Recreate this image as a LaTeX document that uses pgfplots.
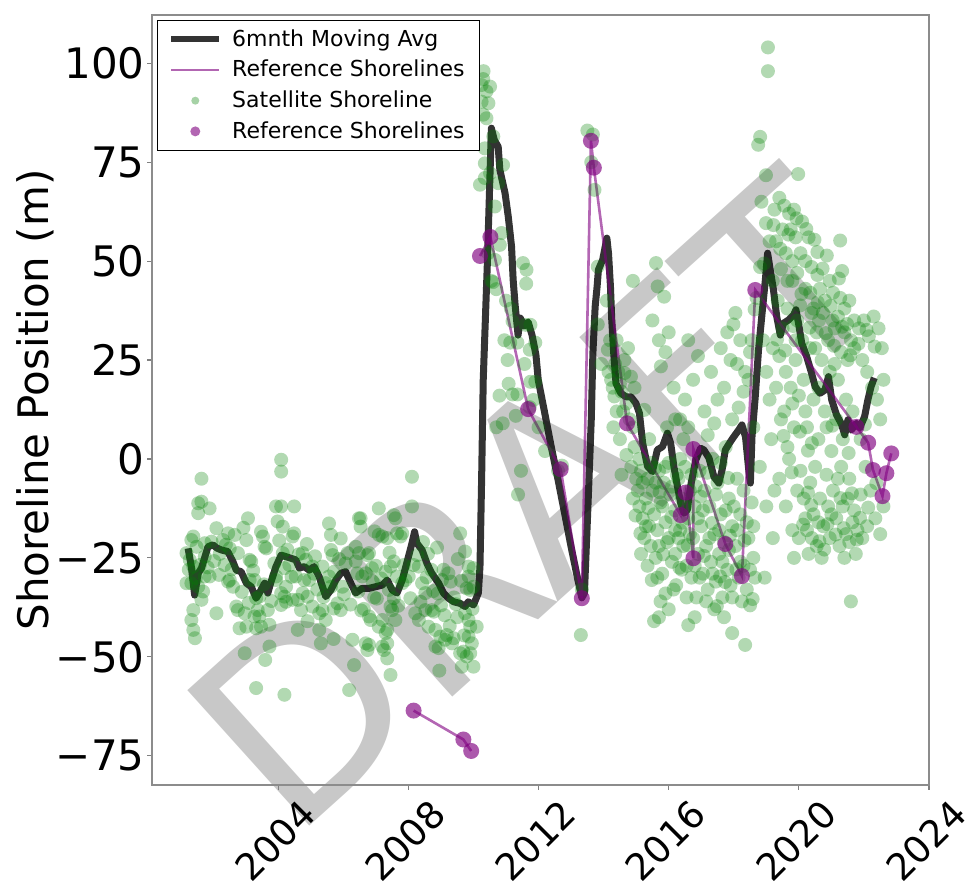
\documentclass[border=0pt]{standalone}
\usepackage{pgfplots}
\pgfplotsset{compat=1.18}
\usepackage{pgfplotstable}
\usepackage{fontspec}
\setmainfont{DejaVu Sans}

\definecolor{mplgreen}{RGB}{0,128,0}
\definecolor{mplpurple}{RGB}{128,0,128}
\definecolor{wmgray}{RGB}{200,200,200}

% satellite-derived shoreline positions (year, m)
\pgfplotstableread[row sep=\\]{
x y\\
2001.64 -5.0\\ 2001.54 -11.2\\ 2001.64 -10.8\\ 2001.54 -13.7\\ 2001.89 -12.5\\ 2001.39 -19.6\\ 2001.33 -20.5\\ 2001.49 -22.2\\
2001.74 -21.3\\ 2001.95 -20.9\\ 2002.10 -17.5\\ 2001.18 -23.8\\ 2001.74 -24.7\\ 2001.39 -27.2\\ 2001.59 -26.8\\ 2001.74 -29.7\\
2001.89 -29.7\\ 2001.18 -31.4\\ 2001.33 -31.4\\ 2001.54 -32.3\\ 2001.69 -33.5\\ 2001.39 -38.2\\ 2001.33 -40.7\\ 2001.39 -43.2\\
2001.44 -45.3\\ 2002.10 -39.0\\ 2001.64 -35.6\\ 2002.46 -18.8\\ 2002.66 -19.2\\ 2002.51 -22.6\\ 2002.76 -23.8\\ 2002.35 -26.8\\
2002.51 -30.6\\ 2002.46 -31.0\\ 2002.61 -32.3\\ 2002.71 -37.3\\ 2002.76 -38.2\\ 2002.81 -42.8\\ 2002.97 -39.0\\ 2003.02 -42.4\\
2002.97 -49.1\\ 2003.07 -15.0\\ 2003.02 -20.5\\ 2003.12 -25.5\\ 2003.17 -25.9\\ 2003.12 -30.6\\ 2003.27 -30.6\\ 2003.32 -35.2\\
2003.42 -34.8\\ 2003.37 -38.2\\ 2003.27 -39.8\\ 2003.42 -39.8\\ 2003.32 -42.8\\ 2003.47 -42.4\\ 2003.68 -38.2\\ 2003.73 -41.9\\
2003.73 -47.4\\ 2003.32 -57.9\\ 2003.47 -18.4\\ 2003.53 -19.6\\ 2003.58 -22.2\\ 2003.63 -22.6\\ 2003.88 -26.4\\ 2003.93 -29.7\\
2004.09 -0.2\\ 2004.09 -3.2\\ 2003.93 -12.0\\ 2004.09 -12.0\\ 2004.49 -12.0\\ 2003.98 -15.8\\ 2004.14 -17.1\\ 2004.14 -23.8\\
2004.34 -26.8\\ 2004.19 -27.6\\ 2004.24 -32.3\\ 2004.19 -34.8\\ 2004.24 -36.1\\ 2004.44 -35.6\\ 2004.60 -35.6\\ 2004.70 -38.2\\
2004.19 -59.6\\ 2004.44 -19.6\\ 2004.49 -18.8\\ 2004.75 -23.8\\ 2004.85 -25.5\\ 2004.54 -29.7\\ 2004.80 -30.6\\ 2004.95 -30.6\\
2005.05 -27.2\\ 2004.75 -33.9\\ 2004.90 -34.8\\ 2005.05 -37.3\\ 2005.26 -39.0\\ 2005.26 -43.2\\ 2005.31 -46.6\\ 2005.36 -38.2\\
2005.46 -40.7\\ 2005.56 -16.3\\ 2005.62 -19.2\\ 2005.62 -23.0\\ 2005.67 -24.3\\ 2005.56 -29.7\\ 2005.72 -28.5\\ 2005.82 -36.5\\
2005.92 -38.2\\ 2006.07 -26.4\\ 2006.13 -23.8\\ 2005.97 -32.3\\ 2006.18 -58.4\\ 2006.28 -45.7\\ 2006.33 -52.1\\ 2006.38 -25.9\\
2006.48 -23.8\\ 2006.48 -15.0\\ 2006.53 -15.0\\ 2006.43 -28.9\\ 2006.58 -29.7\\ 2006.69 -28.9\\ 2006.74 -24.3\\ 2006.79 -23.8\\
2006.79 -39.8\\ 2006.84 -40.7\\ 2006.69 -46.6\\ 2006.74 -48.3\\ 2006.79 -47.0\\ 2007.20 -47.4\\ 2007.25 -48.3\\ 2007.35 -46.6\\
2007.09 -12.5\\ 2007.45 -54.6\\ 2007.35 -50.4\\ 2007.09 -19.2\\ 2007.20 -19.6\\ 2007.35 -20.0\\ 2007.30 -28.5\\ 2007.45 -27.2\\
2007.55 -25.9\\ 2007.40 -33.1\\ 2007.55 -35.2\\ 2007.45 -37.3\\ 2007.50 -38.2\\ 2007.60 -40.7\\ 2007.30 -44.0\\ 2007.55 -14.2\\
2007.60 -15.0\\ 2007.81 -18.8\\ 2007.65 -18.8\\ 2007.76 -19.6\\ 2008.11 -4.5\\ 2008.11 -12.0\\ 2008.01 -29.7\\ 2008.16 -26.8\\
2008.32 -27.2\\ 2008.27 -24.3\\ 2008.21 -39.0\\ 2008.32 -40.7\\ 2008.52 -38.2\\ 2008.42 -31.4\\ 2008.52 -33.9\\ 2008.62 -42.4\\
2008.83 -43.2\\ 2008.83 -47.4\\ 2008.93 -47.8\\ 2008.98 -44.9\\ 2009.13 -45.7\\ 2009.18 -44.5\\ 2008.72 -38.2\\ 2008.78 -38.6\\
2009.03 -30.6\\ 2009.08 -28.0\\ 2009.23 -28.9\\ 2009.39 -45.3\\ 2009.34 -46.6\\ 2009.59 -49.1\\ 2009.69 -48.7\\ 2009.64 -52.5\\
2009.79 -49.9\\ 2010.00 -52.5\\ 2009.90 -49.1\\ 2009.95 -46.6\\ 2009.85 -44.9\\ 2009.59 -18.8\\ 2009.74 -23.4\\ 2009.85 -27.2\\
2010.00 -27.6\\ 2009.85 -29.7\\ 2009.79 -32.7\\ 2009.90 -33.1\\ 2010.00 -32.3\\ 2009.74 -39.0\\ 2009.85 -40.7\\ 2009.90 -42.4\\
2010.10 -42.4\\ 2007.20 -40.7\\ 2007.09 -42.4\\ 2007.35 -43.2\\ 2007.91 -30.6\\ 2007.81 -31.4\\ 2007.65 -29.7\\ 2006.53 -17.1\\
2006.38 -22.2\\ 2005.36 -27.2\\ 2005.46 -31.4\\ 2005.62 -32.3\\ 2003.93 -30.6\\ 2004.09 -33.9\\ 2004.09 -36.9\\ 2005.10 -29.0\\
2005.20 -33.0\\ 2004.90 -41.0\\ 2006.90 -31.0\\ 2006.95 -35.0\\ 2007.00 -27.0\\ 2008.45 -21.0\\ 2008.60 -24.0\\ 2008.70 -28.0\\
2008.90 -34.0\\ 2009.00 -37.0\\ 2009.40 -35.0\\ 2009.50 -40.0\\ 2009.30 -31.0\\ 2001.25 -28.0\\ 2002.20 -24.0\\ 2002.30 -20.5\\
2001.28 -25.5\\ 2001.47 -30.1\\ 2001.83 -27.4\\ 2002.03 -25.8\\ 2002.18 -29.3\\ 2002.39 -21.7\\ 2002.57 -27.9\\ 2002.88 -33.6\\
2003.09 -36.4\\ 2003.23 -28.2\\ 2003.56 -31.7\\ 2003.79 -35.9\\ 2004.03 -20.6\\ 2004.28 -22.9\\ 2004.41 -29.8\\ 2004.63 -24.1\\
2004.88 -21.5\\ 2005.13 -24.6\\ 2005.39 -34.9\\ 2005.71 -37.8\\ 2005.87 -25.3\\ 2006.02 -34.2\\ 2006.22 -36.8\\ 2006.46 -33.5\\
2006.63 -37.9\\ 2006.88 -27.6\\ 2007.03 -35.3\\ 2007.16 -30.2\\ 2007.42 -23.7\\ 2007.69 -37.1\\ 2007.86 -26.8\\ 2008.06 -35.2\\
2008.37 -36.1\\ 2008.56 -29.9\\ 2008.76 -33.4\\ 2009.11 -39.5\\ 2009.27 -42.2\\ 2009.46 -36.7\\ 2009.62 -30.8\\ 2009.97 -37.9\\
2009.71 -44.6\\ 2009.52 -25.3\\ 2002.93 -17.4\\ 2005.92 -20.1\\ 2006.96 -18.3\\ 2008.88 -22.4\\ 2004.60 -43.2\\ 2003.60 -50.8\\
2005.70 -45.5\\ 2008.95 -53.5\\ 2006.55 -38.3\\
2010.31 98.0\\ 2010.30 96.0\\ 2010.25 94.5\\ 2010.51 94.1\\ 2010.40 92.9\\ 2010.25 90.3\\ 2010.46 89.9\\ 2010.30 87.0\\
2010.40 86.1\\ 2010.35 78.5\\ 2010.61 81.5\\ 2010.35 74.7\\ 2010.51 72.2\\ 2010.91 74.3\\ 2010.20 69.3\\ 2010.35 71.0\\
2010.76 69.7\\ 2010.66 63.8\\ 2010.86 57.1\\ 2010.81 54.1\\ 2010.66 50.3\\ 2010.45 52.0\\ 2010.55 45.0\\ 2010.70 42.9\\
2010.60 44.7\\ 2011.52 49.5\\ 2011.63 47.8\\ 2011.62 44.3\\ 2011.20 34.8\\ 2011.60 33.9\\ 2011.75 33.9\\ 2011.13 29.4\\
2011.35 29.4\\ 2011.73 27.6\\ 2011.90 29.4\\ 2011.08 19.0\\ 2011.20 16.3\\ 2011.35 16.3\\ 2011.57 24.0\\ 2011.75 19.5\\
2011.90 19.5\\ 2011.84 14.9\\ 2011.73 13.1\\ 2011.30 10.9\\ 2011.46 -3.0\\ 2012.72 -1.7\\ 2012.60 -3.0\\ 2010.70 8.0\\
2010.80 16.0\\ 2010.90 9.0\\ 2011.05 25.0\\ 2011.00 40.0\\ 2012.00 8.0\\ 2012.20 2.0\\ 2013.33 -33.0\\ 2013.30 -44.5\\
2011.15 38.0\\ 2010.95 30.0\\ 2011.37 -9.0\\
2013.50 83.0\\ 2013.67 82.0\\ 2013.62 75.0\\ 2013.72 68.0\\ 2013.82 48.6\\ 2013.82 34.0\\ 2013.93 24.0\\
2014.13 27.6\\ 2014.23 20.0\\ 2014.33 15.8\\ 2014.28 18.0\\ 2014.45 22.0\\ 2014.64 25.0\\ 2014.84 20.8\\ 2014.64 21.7\\
2014.55 17.0\\ 2014.40 12.0\\ 2014.70 14.0\\ 2014.90 8.0\\ 2014.50 5.0\\ 2014.75 28.0\\ 2014.95 3.0\\ 2015.00 -5.0\\
2014.85 -2.0\\ 2014.20 30.0\\ 2014.10 40.0\\ 2014.90 45.0\\ 2014.15 22.0\\ 2014.35 24.0\\ 2014.50 19.0\\ 2014.60 12.0\\
2014.80 10.0\\ 2014.95 18.0\\ 2014.40 30.0\\ 2014.55 -4.0\\ 2014.70 1.0\\ 2014.90 -10.0\\ 2014.30 8.0\\
2015.05 -8.0\\ 2015.10 -12.0\\ 2015.15 -3.0\\ 2015.20 -15.0\\ 2015.25 -20.0\\ 2015.30 -10.0\\ 2015.35 -5.0\\ 2015.40 -17.0\\
2015.45 -22.0\\ 2015.50 -8.0\\ 2015.55 -14.0\\ 2015.60 -25.0\\ 2015.65 -18.0\\ 2015.70 -3.0\\ 2015.75 -11.0\\ 2015.80 -29.0\\
2015.85 -6.0\\ 2015.90 -16.0\\ 2015.95 -21.0\\ 2016.00 -1.0\\ 2016.05 -9.0\\ 2016.10 -26.0\\ 2016.15 -33.0\\ 2016.20 -13.0\\
2016.25 -4.0\\ 2015.25 12.4\\ 2015.61 49.5\\ 2015.66 43.6\\ 2015.86 41.0\\ 2015.76 23.4\\ 2015.50 35.0\\ 2015.70 30.0\\
2015.90 27.0\\ 2016.00 32.0\\ 2016.15 18.0\\ 2016.20 10.0\\ 2015.40 5.0\\ 2015.95 8.0\\ 2015.65 -30.0\\ 2015.75 -36.0\\
2015.55 -41.0\\ 2015.70 -40.0\\ 2016.00 -38.0\\ 2015.90 -34.0\\ 2016.20 -24.0\\ 2015.10 0.0\\ 2015.20 -6.0\\ 2015.30 -17.0\\
2015.45 -1.0\\ 2015.60 -6.0\\ 2015.70 -22.0\\ 2015.80 -12.0\\ 2015.90 -2.0\\ 2016.00 -20.0\\ 2016.10 -7.0\\ 2016.20 -18.0\\
2015.15 -24.0\\ 2015.35 -27.0\\
2015.13 -18.8\\ 2015.37 -12.4\\ 2015.58 -2.3\\ 2015.83 -24.1\\ 2016.08 -14.7\\ 2016.33 -27.5\\ 2016.58 -21.8\\ 2016.83 -6.9\\
2017.08 -24.5\\ 2017.33 -16.2\\ 2017.58 -29.7\\ 2017.83 -4.8\\ 2018.08 -27.9\\ 2018.33 -20.6\\ 2018.58 -35.4\\ 2015.48 -30.6\\
2016.23 -31.9\\ 2016.98 -9.5\\ 2017.48 -37.2\\ 2017.73 -31.1\\ 2014.98 -14.3\\ 2015.72 -8.4\\ 2016.42 -16.1\\ 2017.18 -3.5\\
2017.88 -19.4\\
2016.30 -5.0\\ 2016.35 -18.0\\ 2016.40 -10.0\\ 2016.45 -22.0\\ 2016.50 -2.0\\ 2016.55 -27.0\\ 2016.60 -15.0\\ 2016.65 -8.0\\
2016.70 -30.0\\ 2016.75 -20.0\\ 2016.80 -12.0\\ 2016.85 -35.0\\ 2016.90 -24.0\\ 2016.95 -3.0\\ 2016.35 10.0\\ 2016.50 15.0\\
2016.60 30.0\\ 2016.75 20.0\\ 2016.90 26.0\\ 2016.45 5.0\\ 2016.80 -40.0\\ 2016.60 -42.0\\ 2016.30 -20.0\\ 2016.40 -28.0\\
2016.50 -12.0\\ 2016.55 -35.0\\ 2016.65 -19.0\\ 2016.70 -4.0\\ 2016.80 -27.0\\ 2016.90 -15.0\\ 2016.95 -30.0\\ 2016.35 0.0\\
2016.60 8.0\\
2017.00 -17.0\\ 2017.05 -29.0\\ 2017.10 -8.0\\ 2017.15 -22.0\\ 2017.20 -33.0\\ 2017.25 -12.0\\ 2017.30 -26.0\\ 2017.35 0.0\\
2017.40 -19.0\\ 2017.45 -31.0\\ 2017.50 -6.0\\ 2017.55 -24.0\\ 2017.60 -14.0\\ 2017.65 -35.0\\ 2017.70 -21.0\\ 2017.75 3.0\\
2017.80 -28.0\\ 2017.85 -10.0\\ 2017.90 -32.0\\ 2017.95 -17.0\\ 2017.10 12.0\\ 2017.30 22.0\\ 2017.50 15.0\\ 2017.60 28.0\\
2017.70 18.0\\ 2017.80 32.0\\ 2017.90 25.0\\ 2017.95 10.0\\ 2017.40 -38.0\\ 2017.70 -40.0\\ 2017.95 -44.0\\ 2017.05 -13.0\\
2017.15 -36.0\\ 2017.25 -20.0\\ 2017.35 -29.0\\ 2017.45 -9.0\\ 2017.55 -18.0\\ 2017.65 -26.0\\ 2017.75 -13.0\\ 2017.85 -23.0\\
2017.95 -35.0\\ 2017.20 6.0\\ 2017.40 9.0\\ 2017.60 -1.0\\
2018.05 -22.0\\ 2018.10 -5.0\\ 2018.15 -30.0\\ 2018.20 -14.0\\ 2018.25 -36.0\\ 2018.30 -27.0\\ 2018.35 -47.0\\ 2018.40 -33.0\\
2018.45 -20.0\\ 2018.50 -37.0\\ 2018.55 -11.0\\ 2018.60 -25.0\\ 2018.65 -30.0\\ 2018.05 36.9\\ 2017.99 34.0\\ 2018.10 24.0\\
2018.20 30.0\\ 2018.30 17.0\\ 2018.45 20.0\\ 2018.50 27.0\\ 2018.64 37.8\\ 2018.70 40.7\\ 2018.60 8.0\\ 2018.10 -18.0\\
2018.20 -26.0\\ 2018.30 -8.0\\ 2018.40 -16.0\\ 2018.50 -28.0\\ 2018.60 -17.0\\ 2018.00 -12.0\\ 2018.15 13.0\\ 2018.35 22.0\\
2018.55 30.0\\
2018.75 79.4\\ 2018.81 81.4\\ 2019.05 104.0\\ 2019.05 98.0\\ 2018.99 71.7\\ 2018.99 59.6\\ 2019.22 59.1\\ 2018.93 49.4\\
2018.81 48.5\\ 2018.85 65.0\\ 2019.10 55.0\\ 2019.20 45.0\\ 2019.25 63.0\\ 2018.90 30.0\\ 2019.00 22.0\\ 2019.10 15.0\\
2019.20 28.0\\ 2019.15 5.0\\ 2018.80 -2.0\\ 2019.00 -12.0\\ 2019.20 -20.0\\ 2019.25 -8.0\\ 2018.95 -30.0\\
2019.40 66.0\\ 2019.55 64.0\\ 2019.70 62.0\\ 2019.85 63.0\\ 2019.98 72.0\\ 2019.75 58.0\\ 2019.90 56.0\\ 2019.60 52.0\\
2019.45 48.0\\ 2019.80 45.0\\ 2019.35 40.0\\ 2019.65 38.0\\ 2019.50 33.0\\ 2019.95 35.0\\ 2019.40 26.0\\ 2019.60 22.0\\
2019.75 18.0\\ 2019.90 25.0\\ 2019.55 12.0\\ 2019.85 8.0\\ 2019.40 -5.0\\ 2019.60 -12.0\\ 2019.80 -18.0\\ 2019.95 -8.0\\
2019.70 0.0\\ 2020.04 38.8\\ 2020.39 36.9\\ 2020.74 36.9\\ 2020.62 35.0\\ 2021.04 35.0\\ 2020.39 48.5\\ 2020.57 46.5\\
2020.57 52.3\\ 2020.86 51.4\\ 2020.30 56.0\\ 2020.10 60.0\\ 2020.20 43.0\\ 2020.50 28.0\\ 2020.70 25.0\\ 2020.90 30.0\\
2020.15 20.0\\ 2020.45 15.0\\ 2020.80 12.0\\ 2020.25 8.0\\ 2020.60 5.0\\ 2020.95 22.0\\ 2020.05 -3.0\\ 2020.15 -10.0\\
2020.25 -18.0\\ 2020.35 -6.0\\ 2020.45 -14.0\\ 2020.55 -22.0\\ 2020.65 -10.0\\ 2020.75 -17.0\\ 2020.85 -4.0\\ 2020.95 -20.0\\
2020.30 -24.0\\ 2020.70 -25.0\\ 2020.50 -2.0\\ 2021.27 55.2\\ 2021.33 47.5\\ 2021.27 40.7\\ 2021.10 33.0\\ 2021.40 32.0\\
2021.60 30.0\\ 2021.50 25.0\\ 2021.20 20.0\\ 2021.70 35.0\\ 2021.45 15.0\\ 2021.15 10.0\\ 2021.65 12.0\\ 2021.35 5.0\\
2021.05 -8.0\\ 2021.15 -15.0\\ 2021.25 -22.0\\ 2021.35 -12.0\\ 2021.45 -19.0\\ 2021.55 -5.0\\ 2021.65 -16.0\\ 2021.75 -24.0\\
2021.30 -2.0\\ 2021.60 -36.0\\ 2021.85 33.0\\ 2022.00 35.0\\ 2022.15 31.0\\ 2022.30 36.0\\ 2022.45 33.0\\ 2022.55 28.0\\
2021.95 25.0\\ 2022.10 22.0\\ 2022.25 18.0\\ 2022.40 15.0\\ 2022.50 10.0\\ 2022.60 20.0\\ 2021.90 5.0\\ 2022.05 -2.0\\
2022.20 -8.0\\ 2022.35 -15.0\\ 2022.50 -19.0\\ 2022.60 -12.0\\ 2021.95 -20.0\\ 2022.10 -17.0\\
2019.30 55.0\\ 2019.50 58.0\\ 2019.65 45.0\\ 2019.80 50.0\\ 2019.95 47.0\\ 2020.05 52.0\\ 2020.20 50.0\\ 2020.35 42.0\\
2020.45 38.0\\ 2020.65 43.0\\ 2020.80 40.0\\ 2020.95 45.0\\ 2021.05 42.0\\ 2021.20 36.0\\ 2021.40 38.0\\ 2021.55 40.0\\
2021.70 28.0\\ 2021.30 27.0\\ 2021.10 24.0\\ 2020.55 32.0\\ 2020.35 28.0\\ 2020.10 30.0\\ 2019.90 30.0\\ 2019.30 18.0\\
2019.45 10.0\\ 2019.65 3.0\\ 2019.80 14.0\\ 2020.00 16.0\\ 2020.20 12.0\\ 2020.40 4.0\\ 2020.60 18.0\\ 2020.85 8.0\\
2021.00 2.0\\ 2021.20 -5.0\\ 2021.50 -10.0\\ 2021.70 -13.0\\ 2021.00 -14.0\\ 2020.90 -12.0\\ 2020.60 -16.0\\ 2020.40 -20.0\\
2020.20 -15.0\\ 2020.00 -20.0\\ 2019.85 -25.0\\ 2021.40 -25.0\\ 2021.55 -21.0\\ 2021.80 -18.0\\ 2021.90 -9.0\\
2019.33 30.2\\ 2019.58 27.4\\ 2019.83 33.6\\ 2020.08 41.7\\ 2020.33 33.2\\ 2020.58 39.6\\ 2020.83 31.8\\ 2021.08 28.6\\
2021.33 33.4\\ 2021.58 26.2\\ 2021.83 29.1\\ 2022.08 32.6\\ 2022.33 28.4\\ 2019.43 53.1\\ 2019.68 56.7\\ 2019.93 60.8\\
2020.23 58.1\\ 2020.48 55.4\\ 2020.73 48.1\\ 2020.98 38.7\\ 2021.23 45.6\\ 2021.48 34.1\\ 2020.13 -16.6\\ 2020.38 -11.7\\
2020.63 -20.8\\ 2020.88 -16.5\\ 2021.13 -19.1\\ 2021.38 -17.5\\ 2021.63 -8.7\\ 2021.88 -14.9\\ 2022.13 -12.3\\ 2022.38 -6.1\\
2020.28 -8.5\\ 2020.78 -22.9\\ 2021.28 -9.9\\ 2021.78 -20.4\\ 2019.53 5.8\\ 2019.78 -3.4\\ 2020.03 6.9\\ 2020.28 2.1\\
2021.03 8.4\\ 2021.53 1.5\\ 2022.03 8.7\\
}\satellite

% six-month moving average of the satellite series
\pgfplotstableread[row sep=\\]{
x y\\
2001.23 -22.6\\ 2001.33 -27.3\\ 2001.43 -34.4\\ 2001.54 -28.9\\ 2001.64 -27.6\\ 2001.84 -22.2\\ 2001.99 -21.7\\ 2002.11 -22.5\\
2002.25 -23.0\\ 2002.45 -23.4\\ 2002.61 -26.0\\ 2002.71 -28.1\\ 2002.86 -28.5\\ 2003.02 -31.4\\ 2003.17 -32.3\\ 2003.32 -35.2\\
2003.42 -33.9\\ 2003.58 -31.4\\ 2003.68 -33.9\\ 2003.78 -31.0\\ 2003.93 -27.2\\ 2004.09 -24.3\\ 2004.24 -24.7\\ 2004.39 -25.1\\
2004.54 -25.5\\ 2004.65 -27.6\\ 2004.80 -27.2\\ 2004.95 -28.1\\ 2005.10 -27.2\\ 2005.26 -29.8\\ 2005.46 -34.8\\ 2005.62 -33.1\\
2005.77 -30.6\\ 2005.92 -28.9\\ 2006.07 -28.5\\ 2006.23 -31.4\\ 2006.38 -33.9\\ 2006.58 -32.7\\ 2006.79 -32.7\\ 2006.99 -32.3\\
2007.19 -31.9\\ 2007.35 -30.6\\ 2007.50 -33.1\\ 2007.65 -33.9\\ 2007.81 -30.6\\ 2007.96 -26.0\\ 2008.11 -21.3\\ 2008.19 -18.4\\
2008.26 -21.3\\ 2008.42 -23.0\\ 2008.57 -26.4\\ 2008.72 -28.9\\ 2008.93 -31.4\\ 2009.08 -33.9\\ 2009.23 -35.2\\ 2009.39 -36.1\\
2009.59 -36.5\\ 2009.74 -37.3\\ 2009.84 -36.1\\ 2010.00 -36.9\\ 2010.15 -33.9\\ 2010.20 -27.2\\ 2010.25 -5.3\\ 2010.30 20.0\\
2010.43 50.3\\ 2010.55 83.6\\ 2010.64 80.6\\ 2010.76 78.9\\ 2010.81 73.1\\ 2010.97 67.2\\ 2011.07 61.2\\ 2011.17 53.7\\
2011.22 45.2\\ 2011.28 38.9\\ 2011.37 31.3\\ 2011.44 35.6\\ 2011.56 33.6\\ 2011.68 34.6\\ 2011.80 31.3\\ 2011.92 26.3\\
2011.99 20.0\\ 2012.19 11.6\\ 2012.39 3.1\\ 2012.60 -5.3\\ 2012.80 -13.7\\ 2013.00 -22.2\\ 2013.21 -30.6\\ 2013.33 -35.1\\
2013.41 -33.9\\ 2013.51 -13.7\\ 2013.62 9.9\\ 2013.67 26.7\\ 2013.74 38.5\\ 2013.80 43.6\\ 2013.84 47.8\\ 2013.97 50.3\\
2014.10 55.8\\ 2014.15 52.0\\ 2014.21 43.6\\ 2014.25 35.1\\ 2014.31 26.7\\ 2014.38 19.1\\ 2014.53 16.6\\ 2014.69 15.7\\
2014.84 15.7\\ 2014.99 14.1\\ 2015.10 11.6\\ 2015.20 4.0\\ 2015.35 -1.9\\ 2015.50 -3.2\\ 2015.65 2.3\\ 2015.81 3.1\\
2015.96 6.5\\ 2016.06 4.0\\ 2016.16 -1.9\\ 2016.27 -7.0\\ 2016.37 -11.2\\ 2016.47 -13.7\\ 2016.57 -12.9\\ 2016.67 -7.0\\
2016.83 -0.3\\ 2016.98 2.7\\ 2017.08 2.3\\ 2017.24 0.2\\ 2017.39 -4.5\\ 2017.54 -6.1\\ 2017.64 -2.8\\ 2017.74 2.3\\
2017.90 4.4\\ 2018.00 5.6\\ 2018.15 7.3\\ 2018.25 8.6\\ 2018.36 5.6\\ 2018.46 -2.8\\ 2018.51 -6.1\\ 2018.56 5.6\\
2018.66 15.7\\ 2018.76 27.5\\ 2018.86 36.0\\ 2018.97 45.2\\ 2019.04 52.0\\ 2019.12 47.8\\ 2019.22 42.7\\ 2019.32 36.0\\
2019.43 31.3\\ 2019.53 34.3\\ 2019.68 35.1\\ 2019.84 36.4\\ 2019.91 37.7\\ 2019.99 34.3\\ 2020.09 29.2\\ 2020.24 25.9\\
2020.39 21.7\\ 2020.50 18.3\\ 2020.65 16.6\\ 2020.80 17.4\\ 2020.91 20.8\\ 2021.01 14.9\\ 2021.16 11.1\\ 2021.31 8.8\\
2021.41 6.1\\ 2021.51 9.9\\ 2021.61 7.3\\ 2021.77 9.0\\ 2021.87 7.8\\ 2022.02 10.7\\ 2022.12 14.9\\ 2022.22 18.3\\
2022.32 20.5\\
}\movavg

% surveyed reference shorelines (nan splits the record into two runs)
\pgfplotstableread[row sep=\\]{
x y\\
2008.16 -63.6\\ 2009.69 -70.9\\ 2009.93 -73.8\\ 2010.05 nan\\
2010.20 51.3\\ 2010.52 56.1\\ 2011.68 12.6\\ 2012.68 -2.6\\ 2013.33 -35.2\\ 2013.61 80.4\\ 2013.70 73.6\\ 2014.72 9.0\\
2016.37 -14.2\\ 2016.52 -8.5\\ 2016.76 -25.1\\ 2016.76 2.5\\ 2017.74 -21.5\\ 2018.25 -29.6\\ 2018.66 42.7\\ 2021.77 8.1\\
2022.13 4.1\\ 2022.28 -2.8\\ 2022.57 -9.4\\ 2022.69 -3.6\\ 2022.84 1.4\\
}\reference

\begin{document}
\begin{tikzpicture}
\begin{axis}[
  name=ax, set layers,
  scale only axis, width=388.5pt, height=385pt,
  xmin=2000.12, xmax=2024, ymin=-82.4, ymax=112.2,
  clip=false,
  axis line style={black!45, line width=0.6pt},
  tick pos=left, tick align=outside, major tick length=2.5pt,
  tick style={black!50, line width=0.6pt},
  xtick={2004,2008,2012,2016,2020,2024},
  xticklabels={2004,2008,2012,2016,2020,2024},
  ytick={-75,-50,-25,0,25,50,75,100},
  yticklabels={−75,−50,−25,0,25,50,75,100},
  yticklabel style={font=\fontsize{21}{25}\selectfont, anchor=east, inner sep=0pt, xshift=-1pt},
  xticklabel style={font=\fontsize{18.5}{22}\selectfont, xshift=-1.5pt, yshift=-25.5pt, rotate=45,
    anchor=center, inner sep=0pt},
  every axis y label/.style={at={(axis description cs:-0.1506,0.5)}, rotate=90, anchor=center,
    font=\fontsize{21}{25}\selectfont},
  ylabel={Shoreline Position (m)},
  unbounded coords=jump,
  legend cell align=left,
  legend style={at={(axis description cs:0,1)}, anchor=north west, xshift=2.5pt, yshift=-2.5pt,
    draw=black, font=\fontsize{11}{13}\selectfont, row sep=1.5pt, column sep=3pt,
    inner xsep=5.5pt, inner ysep=2.5pt},
  legend image code/.code={\draw[mark repeat=2,mark phase=2,#1]
    plot coordinates {(0cm,0cm) (0.42cm,0cm) (0.84cm,0cm)};},
]
% legend entries
\addlegendimage{black, opacity=0.8, line width=3pt}
\addlegendentry{6mnth Moving Avg}
\addlegendimage{mplpurple, opacity=0.6, line width=1.3pt}
\addlegendentry{Reference Shorelines}
\addlegendimage{only marks, mark=*, mark size=2pt,
  mark options={fill=mplgreen, fill opacity=0.35, draw opacity=0}}
\addlegendentry{Satellite Shoreline}
\addlegendimage{only marks, mark=*, mark size=2.5pt,
  mark options={fill=mplpurple, fill opacity=0.6, draw opacity=0}}
\addlegendentry{Reference Shorelines}

% watermark, kept beneath the data and the tick labels
\begin{pgfonlayer}{axis background}
\node[rotate=42, anchor=center, text=wmgray, font=\fontsize{125}{125}\selectfont, inner sep=0pt]
  at (axis cs:2011.9,-10.5) {DRAFT};
\end{pgfonlayer}

\addplot[only marks, mark=*, mark size=3.5pt,
  mark options={fill=mplgreen, fill opacity=0.3, draw opacity=0}, forget plot]
  table {\satellite};
\addplot[black, opacity=0.8, line width=3.5pt, line join=round, forget plot]
  table {\movavg};
\addplot[mplpurple, opacity=0.6, line width=1.3pt, forget plot]
  table {\reference};
\addplot[only marks, mark=*, mark size=4pt,
  mark options={fill=mplpurple, fill opacity=0.65, draw opacity=0}, forget plot]
  table {\reference};
\end{axis}
\path ([shift={(-76pt,-54pt)}]ax.south west) rectangle ([shift={(23pt,7.5pt)}]ax.north east);
\end{tikzpicture}
\end{document}
